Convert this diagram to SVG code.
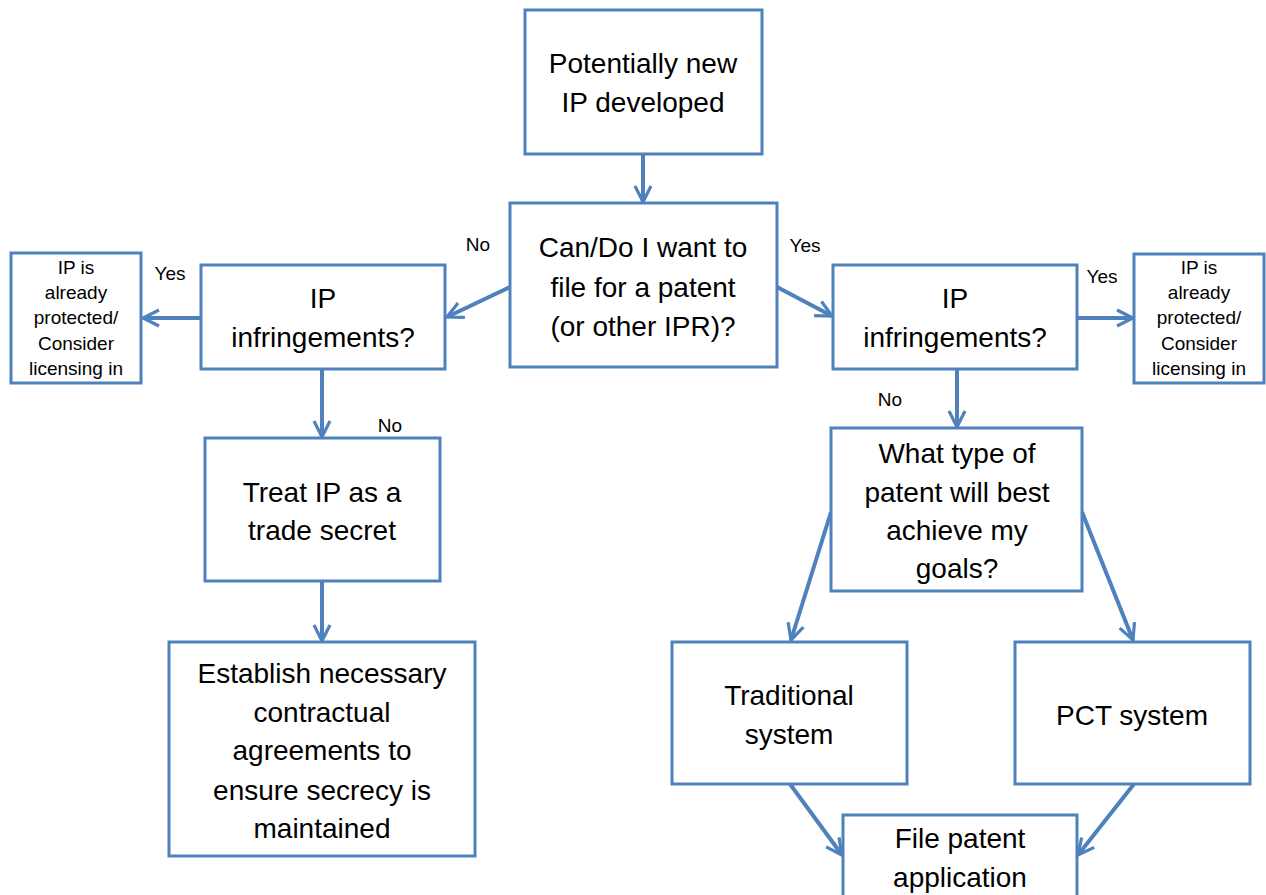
<svg xmlns="http://www.w3.org/2000/svg" width="1266" height="895" viewBox="0 0 1266 895">
<style>
.box{fill:#fff;stroke:#4f81bd;stroke-width:3}
.t{font-family:"Liberation Sans",Arial,sans-serif;font-size:28px;fill:#000;text-anchor:middle}
.s{font-family:"Liberation Sans",Arial,sans-serif;font-size:19px;fill:#000;text-anchor:middle}
.l{font-family:"Liberation Sans",Arial,sans-serif;font-size:19px;fill:#000;text-anchor:middle}
.c{stroke:#4f81bd;stroke-width:4;fill:none;marker-end:url(#a)}
</style>
<defs>
<marker id="a" viewBox="0 0 10 10" refX="9" refY="5" markerWidth="5" markerHeight="5" orient="auto" markerUnits="strokeWidth">
<path d="M1,1 L9,5 L1,9" fill="none" stroke="#4f81bd" stroke-width="1.6" stroke-linejoin="miter"/>
</marker>
</defs>
<rect width="1266" height="895" fill="#fff"/>
<g id="connectors">
<line class="c" x1="643" y1="154" x2="643" y2="202"/>
<line class="c" x1="510" y1="287" x2="447" y2="317"/>
<line class="c" x1="777" y1="287" x2="832" y2="316"/>
<line class="c" x1="201" y1="318" x2="143" y2="318"/>
<line class="c" x1="1077" y1="318" x2="1133" y2="318"/>
<line class="c" x1="322" y1="369" x2="322" y2="437"/>
<line class="c" x1="957" y1="369" x2="957" y2="427"/>
<line class="c" x1="322" y1="581" x2="322" y2="641"/>
<line class="c" x1="831" y1="512" x2="791" y2="640"/>
<line class="c" x1="1082" y1="512" x2="1133" y2="640"/>
<line class="c" x1="790" y1="784" x2="842" y2="855"/>
<line class="c" x1="1134" y1="784" x2="1078" y2="855"/>
<text class="l" x="478" y="251">No</text>
<text class="l" x="805" y="252">Yes</text>
<text class="l" x="170" y="280">Yes</text>
<text class="l" x="390" y="432">No</text>
<text class="l" x="890" y="406">No</text>
<text class="l" x="1102" y="283">Yes</text>
</g>
<g id="n1"><rect class="box" x="525" y="10" width="237" height="144"/>
<text class="t" x="643" y="73">Potentially new</text><text class="t" x="643" y="112">IP developed</text></g>
<g id="n2"><rect class="box" x="510" y="203" width="267" height="164"/>
<text class="t" x="643" y="257">Can/Do I want to</text><text class="t" x="643" y="297">file for a patent</text><text class="t" x="643" y="336">(or other IPR)?</text></g>
<g id="n3"><rect class="box" x="201" y="265" width="244" height="104"/>
<text class="t" x="323" y="308">IP</text><text class="t" x="323" y="347">infringements?</text></g>
<g id="n4"><rect class="box" x="833" y="265" width="244" height="104"/>
<text class="t" x="955" y="308">IP</text><text class="t" x="955" y="347">infringements?</text></g>
<g id="n5"><rect class="box" x="11" y="253" width="130" height="130"/>
<text class="s" x="76" y="274">IP is</text><text class="s" x="76" y="299">already</text><text class="s" x="76" y="324">protected/</text><text class="s" x="76" y="350">Consider</text><text class="s" x="76" y="375">licensing in</text></g>
<g id="n6"><rect class="box" x="1134" y="254" width="130" height="129"/>
<text class="s" x="1199" y="274">IP is</text><text class="s" x="1199" y="299">already</text><text class="s" x="1199" y="324">protected/</text><text class="s" x="1199" y="350">Consider</text><text class="s" x="1199" y="375">licensing in</text></g>
<g id="n7"><rect class="box" x="205" y="438" width="235" height="143"/>
<text class="t" x="322" y="502">Treat IP as a</text><text class="t" x="322" y="540">trade secret</text></g>
<g id="n8"><rect class="box" x="169" y="642" width="306" height="214"/>
<text class="t" x="322" y="683">Establish necessary</text><text class="t" x="322" y="722">contractual</text><text class="t" x="322" y="760">agreements to</text><text class="t" x="322" y="800">ensure secrecy is</text><text class="t" x="322" y="838">maintained</text></g>
<g id="n9"><rect class="box" x="831" y="428" width="251" height="163"/>
<text class="t" x="957" y="463">What type of</text><text class="t" x="957" y="502">patent will best</text><text class="t" x="957" y="540">achieve my</text><text class="t" x="957" y="578">goals?</text></g>
<g id="n10"><rect class="box" x="672" y="642" width="235" height="142"/>
<text class="t" x="789" y="705">Traditional</text><text class="t" x="789" y="744">system</text></g>
<g id="n11"><rect class="box" x="1015" y="642" width="235" height="142"/>
<text class="t" x="1132" y="725">PCT system</text></g>
<g id="n12"><rect class="box" x="843" y="815" width="234" height="90"/>
<text class="t" x="960" y="848">File patent</text><text class="t" x="960" y="887">application</text></g>
</svg>
